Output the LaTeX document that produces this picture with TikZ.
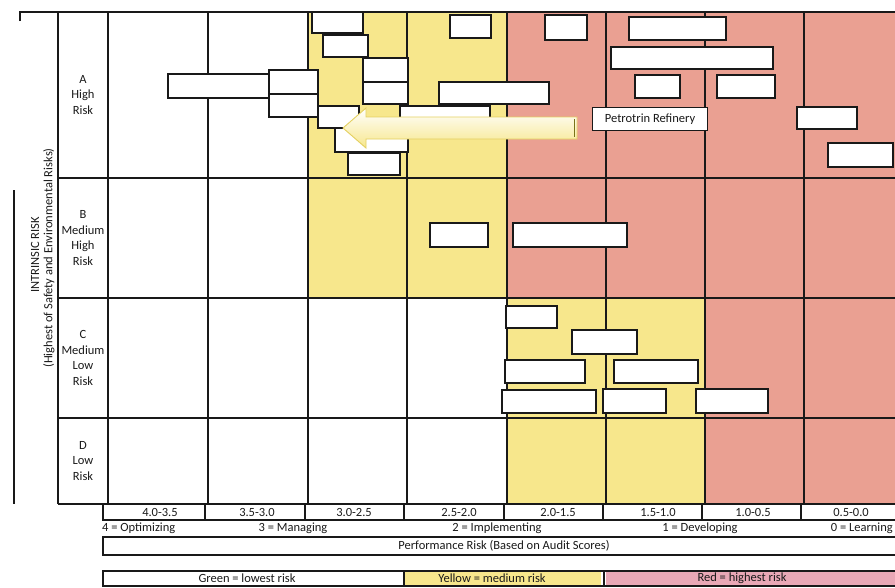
\documentclass[tikz,border=0pt]{standalone}
\usepackage{fontspec}
\setmainfont{Carlito}
\definecolor{riskyellow}{RGB}{247,231,140}
\definecolor{riskred}{RGB}{234,160,146}
\definecolor{legendred}{RGB}{233,168,182}
\definecolor{arrowedge}{RGB}{228,208,96}
\begin{document}
\begin{tikzpicture}[x=1pt, y=-1pt,
    grid/.style={black!90, line width=1.2pt},
    blank/.style={draw=black!90, line width=1.1pt, fill=white},
    lbl/.style={font=\fontsize{12.5}{15.5}\selectfont, inner sep=0pt, align=center, text=black!90}]
    \useasboundingbox (0,0) rectangle (895,587);
    \def\Ytop{12}
    \def\Ybot{504}
    \fill[riskyellow] (308,\Ytop) rectangle (507,298);
    \fill[riskred] (507,\Ytop) rectangle (895,298);
    \fill[riskyellow] (507,298) rectangle (705,\Ybot);
    \fill[riskred] (705,298) rectangle (895,\Ybot);
    \foreach \x in {58,108,208,308,407,507,606,705,804}
      \draw[grid] (\x,\Ytop) -- (\x,\Ybot);
    \foreach \y in {178,298,418,\Ybot}
      \draw[grid] (58,\y) -- (895,\y);
    \draw[grid] (20,21) -- (20,\Ytop) -- (895,\Ytop);
    \draw[grid] (14,190) -- (14,\Ybot);
    \node[lbl] (rowA) at (83,95) {A\\High\\Risk};
    \node[lbl] (rowB) at (83,238) {B\\Medium\\High\\Risk};
    \node[lbl] (rowC) at (83,358) {C\\Medium\\Low\\Risk};
    \node[lbl] (rowD) at (83,461) {D\\Low\\Risk};
    \node[lbl, rotate=90] (axis) at (35,255) {INTRINSIC RISK};
    \node[lbl, rotate=90] (axisnote) at (49,258) {(Highest of Safety and Environmental Risks)};
    \foreach \a/\b/\c/\d in {
      168/74/269/98, 269/70/318/94, 269/94/318/117,
      312/12/363/33, 323/35/368/57, 363/58/408/82, 363/82/408/104,
      318/106/359/128, 335/128/408/152, 348/153/400/175, 400/106/490/128,
      439/82/549/104, 450/15/491/38, 545/15/587/40,
      629/17/726/40, 611/47/773/69, 635/75/680/98, 717/75/775/98,
      797/107/857/129, 828/143/893/167,
      430/223/488/247, 513/223/627/247,
      506/306/557/328, 572/330/637/354, 505/360/585/383, 614/360/698/383,
      502/390/596/413, 603/389/666/413, 696/389/768/413}
      \draw[blank] (\a,\b) rectangle (\c,\d);
    \shadedraw[top color=white, bottom color=riskyellow, draw=arrowedge, line width=0.9pt]
      (577,117) -- (366,117) -- (366,108) -- (343,128) -- (366,148) -- (366,139) -- (577,139) -- cycle;
    \draw[olive!80!black, line width=1pt] (574,119) -- (574,137);
    \node[blank, lbl, minimum width=115pt, minimum height=23pt, anchor=north west] (petro) at (592,107) {Petrotrin Refinery};
    \draw[grid] (103,\Ybot) -- (103,520) -- (895,520);
    \foreach \x in {205,305,404,504,603,702,801}
      \draw[grid] (\x,\Ybot) -- (\x,520);
    \foreach \x/\t [count=\i] in {160/4.0-3.5, 257/3.5-3.0, 354/3.0-2.5, 459/2.5-2.0,
      558/2.0-1.5, 658/1.5-1.0, 753/1.0-0.5, 851/0.5-0.0}
      \node[lbl] (score\i) at (\x,512) {\t};
    \node[lbl, anchor=west] (lvl4) at (102,528) {4 = Optimizing};
    \node[lbl] (lvl3) at (293,528) {3 = Managing};
    \node[lbl] (lvl2) at (497,528) {2 = Implementing};
    \node[lbl] (lvl1) at (700,528) {1 = Developing};
    \node[lbl, anchor=east] (lvl0) at (893,528) {0 = Learning};
    \draw[grid] (895,537) -- (103,537) -- (103,555) -- (895,555);
    \node[lbl] (perf) at (504,546) {Performance Risk (Based on Audit Scores)};
    \fill[riskyellow] (405,571) rectangle (601,586);
    \fill[legendred] (606,571) rectangle (895,586);
    \draw[grid] (895,571) -- (103,571) -- (103,586) -- (895,586);
    \draw[grid] (404,571) -- (404,586);
    \draw[grid] (604,571) -- (604,586);
    \node[lbl] (green) at (247,578) {Green = lowest risk};
    \node[lbl] (yellow) at (492,578) {Yellow = medium risk};
    \node[lbl] (red) at (742,578) {Red = highest risk};
\end{tikzpicture}
\end{document}
